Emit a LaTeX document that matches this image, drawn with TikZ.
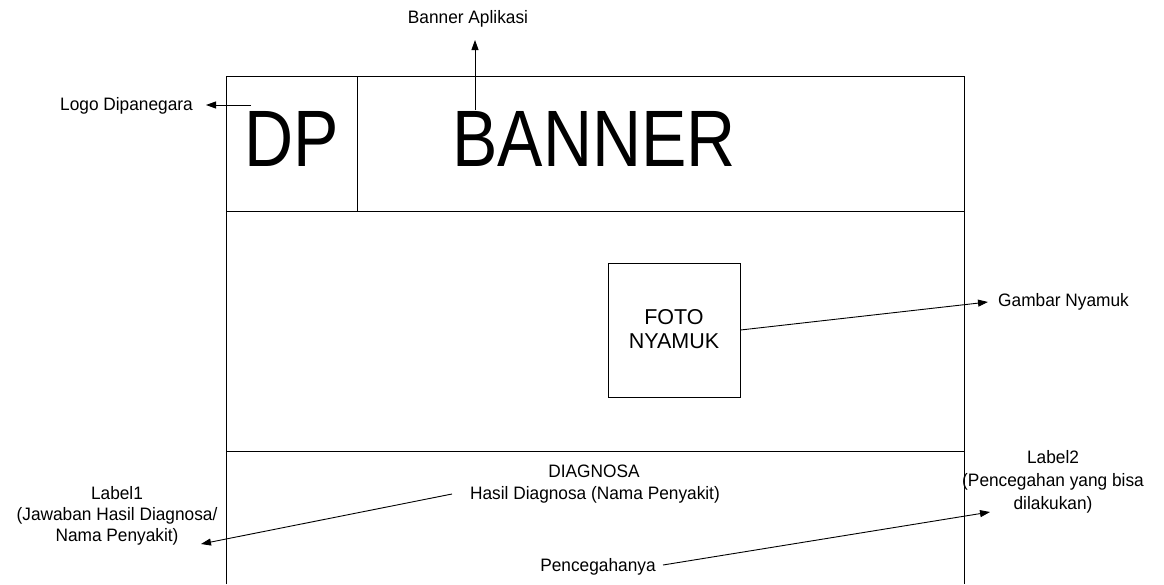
\documentclass[tikz,border=0pt]{standalone}
\usepackage{fontspec}
\setmainfont{Liberation Sans}
\newfontfamily\smallfont{Liberation Sans}[FakeStretch=0.96]
\newfontfamily\bigfont{Liberation Sans}[FakeStretch=0.85]
\usetikzlibrary{arrows.meta}
\begin{document}
\begin{tikzpicture}[x=1pt,y=-1pt,
  frame/.style={draw=black,line width=1pt},
  small/.style={inner sep=0pt,anchor=base,font=\smallfont\fontsize{18}{21}\selectfont},
  huge/.style={inner sep=0pt,anchor=base,font=\bigfont\fontsize{80}{82}\selectfont},
  mid/.style={inner sep=0pt,anchor=base,font=\fontsize{21.5}{24}\selectfont},
  pointer/.style={draw=black,line width=0.9pt,-{Triangle[length=10pt,width=7pt]}}]
\useasboundingbox (0,0) rectangle (1164,584);
% frame
\draw[frame] (226,584) -- (226,76) -- (964,76) -- (964,584);
\draw[frame] (226,211) -- (964,211);
\draw[frame] (357,76) -- (357,211);
\draw[frame] (226,451) -- (964,451);
% photo box
\node[frame,minimum width=132pt,minimum height=134pt,inner sep=0pt] (foto) at (674,330) {};
\node[mid] (fotoa) at (674,324) {FOTO};
\node[mid] (fotob) at (674,348) {NYAMUK};
% big texts
\node[huge] (dp) at (292,166) {DP};
\node[huge] (banner) at (594,166) {BANNER};
% labels
\node[small] (bannerapp) at (468,23) {Banner Aplikasi};
\node[small,anchor=base east] (logo) at (193,110) {Logo Dipanegara};
\node[small,anchor=base west] (gambar) at (998,306) {Gambar Nyamuk};
\node[small] (diag) at (594,477) {DIAGNOSA};
\node[small] (hasil) at (595,499) {Hasil Diagnosa (Nama Penyakit)};
\node[small] (labela) at (117,499) {Label1};
\node[small] (labelb) at (117,520) {(Jawaban Hasil Diagnosa/};
\node[small] (labelc) at (117,541) {Nama Penyakit)};
\node[small] (labeld) at (1053,463) {Label2};
\node[small] (labele) at (1053,486) {(Pencegahan yang bisa};
\node[small] (labelf) at (1053,509) {dilakukan)};
\node[small] (pencegah) at (598,571) {Pencegahanya};
% connector ends
\coordinate (bannerstart) at (475,110);
\coordinate (bannertip) at (475,40);
\coordinate (logostart) at (251,105);
\coordinate (logotip) at (206,105);
\coordinate (gambartip) at (988,302);
\coordinate (hasilstart) at (452,494);
\coordinate (label1tip) at (201,544);
\coordinate (pencstart) at (663,565);
\coordinate (label2tip) at (990,512);
% connectors
\draw[pointer] (bannerstart) -- (bannertip);
\draw[pointer] (logostart) -- (logotip);
\draw[pointer] (foto.east) -- (gambartip);
\draw[pointer] (hasilstart) -- (label1tip);
\draw[pointer] (pencstart) -- (label2tip);
\end{tikzpicture}
\end{document}
